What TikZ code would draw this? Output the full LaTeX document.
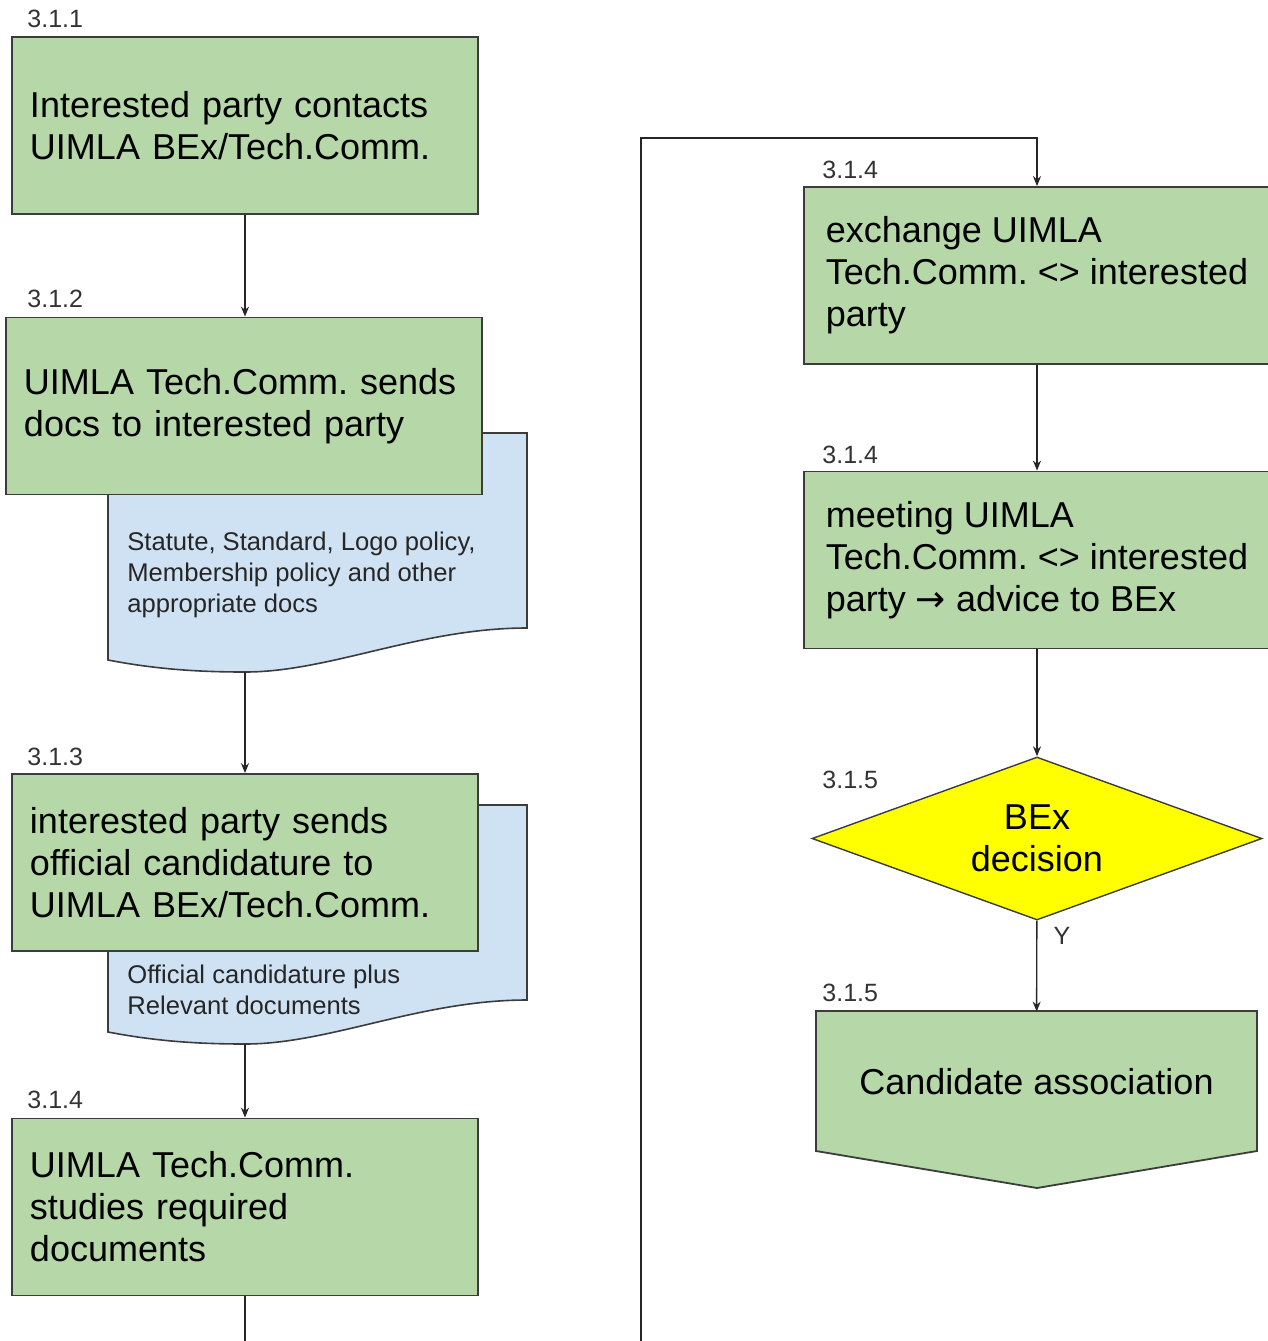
\documentclass[tikz,border=0pt]{standalone}
\usepackage{fontspec}
\setmainfont{Liberation Sans}
\newfontfamily\arrowfont{DejaVu Sans}
\usetikzlibrary{arrows.meta,shapes.geometric}
\frenchspacing

\definecolor{boxgreen}{HTML}{B6D7A8}
\definecolor{docblue}{HTML}{CFE2F3}
\definecolor{decyellow}{HTML}{FFFF00}
\definecolor{linegray}{HTML}{3C3C3C}
\definecolor{numgray}{HTML}{333333}

\tikzset{
  stepbase/.style={rectangle, draw=linegray, fill=boxgreen, line width=0.9pt, minimum height=88.5pt, inner ysep=0pt, align=left, font=\fontsize{18}{21}\selectfont},
  stepbox/.style={stepbase, text width=215pt, inner xsep=9pt},
  stepwide/.style={stepbase, minimum width=233pt, inner xsep=0pt},
  stepnum/.style={anchor=west, inner sep=0pt, text=numgray, font=\fontsize{12.5}{15}\selectfont},
  doctext/.style={anchor=west, inner sep=0pt, align=left, text=black!85, font=\fontsize{12.8}{15.5}\selectfont},
  docshape/.style={draw=linegray, fill=docblue, line width=0.8pt},
  flow/.style={->, line width=0.7pt, draw=black!85}
}

\begin{document}
\begin{tikzpicture}[x=0.5pt, y=-0.5pt, >={Stealth[length=5pt,width=4pt]}]
  \useasboundingbox (0,0) rectangle (1268,1341);
  \clip (0,0) rectangle (1268,1341);

  % documents, behind the boxes
  \draw[docshape] (108,660) -- (108,433) -- (527,433) -- (527,628) .. controls (420,628) and (330,672) .. (245,672) .. controls (190,672) and (150,668) .. (108,660) -- cycle;
  \draw[docshape] (108,1032) -- (108,805) -- (527,805) -- (527,1000) .. controls (420,1000) and (330,1044) .. (245,1044) .. controls (190,1044) and (150,1040) .. (108,1032) -- cycle;
  \node[doctext] (dt1) at (127,575) {Statute, Standard, Logo policy,\\Membership policy and other\\appropriate docs};
  \node[doctext] (dt2) at (127,990) {Official candidature plus\\Relevant documents};
  \coordinate (d1b) at (245,672);
  \coordinate (d2b) at (245,1044);

  % left column
  \node[stepbox] (b1) at (245,125.5) {Interested party contacts\\UIMLA BEx/Tech.Comm.};
  \node[stepbox, text width=220pt] (b2) at (244,406) {UIMLA Tech.Comm. sends\\docs to interested party};
  \node[stepbox] (b3) at (245,862.5) {interested party sends\\official candidature to\\UIMLA BEx/Tech.Comm.};
  \node[stepbox] (b4) at (245,1207) {UIMLA Tech.Comm.\\studies required\\documents};

  % right column
  \node[stepwide] (r1) at (1037,275.5) {exchange UIMLA\\Tech.Comm. <> interested\\party};
  \node[stepwide] (r2) at (1037,560) {meeting UIMLA\\Tech.Comm. <> interested\\party {\arrowfont →} advice to BEx};
  \node[diamond, draw=linegray, fill=decyellow, line width=0.7pt, inner sep=0pt, aspect=2.76, minimum width=225pt, minimum height=81.5pt, align=center, font=\fontsize{18}{21}\selectfont] (dec) at (1037,838.5) {BEx\\decision};
  \draw[draw=linegray, fill=boxgreen, line width=0.9pt] (816,1011) -- (1257,1011) -- (1257,1151) -- (1037,1188) -- (816,1151) -- cycle;
  \node[minimum width=220.5pt, minimum height=70pt, inner sep=0pt, font=\fontsize{18}{21}\selectfont] (cand) at (1036.5,1082) {Candidate association};

  % numbers
  \node[stepnum] (n1) at (27,19) {3.1.1};
  \node[stepnum] (n2) at (27,299) {3.1.2};
  \node[stepnum] (n3) at (27,757) {3.1.3};
  \node[stepnum] (n4) at (27,1100) {3.1.4};
  \node[stepnum] (n5) at (822,170) {3.1.4};
  \node[stepnum] (n6) at (822,455) {3.1.4};
  \node[stepnum] (n7) at (822,780) {3.1.5};
  \node[stepnum] (n8) at (822,993) {3.1.5};

  % connectors
  \coordinate (out1) at (245,1350);
  \coordinate (in1) at (641,1350);
  \coordinate (turn) at (641,138);
  \draw[flow] (b1.south) -- (b1.south |- b2.north);
  \draw[flow] (d1b) -- (b3.north);
  \draw[flow] (d2b) -- (b4.north);
  \draw[line width=0.7pt, draw=black!85] (b4.south) -- (out1);
  \draw[flow] (in1) -- (turn) -| (r1.north);
  \draw[flow] (r1) -- (r2);
  \draw[flow] (r2) -- (dec);
  \draw[flow] (dec) -- (cand) node[pos=0.17, stepnum, anchor=west, xshift=8pt] (yes) {Y};
\end{tikzpicture}
\end{document}
